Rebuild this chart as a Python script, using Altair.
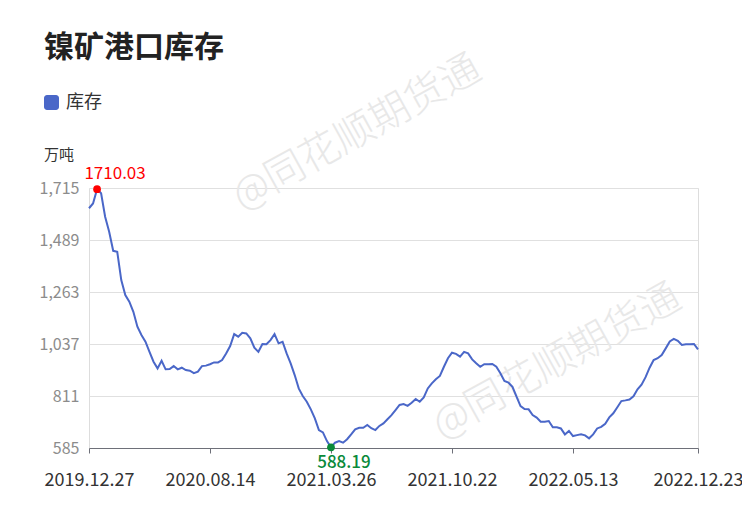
import altair as alt
import pandas as pd

# ---- data ----
stock = [
    1627, 1648, 1710.03, 1692, 1590, 1525, 1442, 1438, 1315, 1250,
    1221, 1177, 1112, 1076, 1047, 1003, 960, 931, 964, 927,
    928, 941, 927, 934, 924, 921, 910, 917, 941, 943,
    949, 957, 957, 967, 996, 1028, 1080, 1069, 1086, 1083,
    1062, 1021, 1003, 1037, 1036, 1054, 1080, 1040, 1047, 996,
    953, 902, 844, 811, 786, 753, 714, 663, 653, 615,
    588.19, 608, 615, 608, 623, 644, 666, 673, 673, 685,
    671, 663, 681, 692, 710, 728, 750, 772, 776, 768,
    782, 798, 786, 805, 844, 866, 884, 898, 938, 975,
    999, 994, 982, 1003, 996, 970, 953, 938, 949, 949,
    950, 938, 910, 876, 869, 851, 808, 767, 754, 753,
    728, 717, 699, 699, 702, 675, 675, 670, 644, 659,
    637, 641, 645, 640, 627, 644, 670, 677, 690, 718,
    736, 762, 789, 792, 796, 810, 840, 860, 893, 934,
    967, 975, 989, 1018, 1048, 1059, 1051, 1033, 1036, 1036,
    1037, 1014,
]
tick_index = [0, 30, 60, 90, 120, 151]
tick_labels = ["2019.12.27", "2020.08.14", "2021.03.26", "2021.10.22", "2022.05.13", "2022.12.23"]
y_ticks = [585, 811, 1037, 1263, 1489, 1715]

title_text = "镍矿港口库存"
series_name = "库存"
unit_text = "万吨"
watermark = "@同花顺期货通"

FONT = "Noto Sans CJK SC"
LINE_COLOR = "#4a67c8"

df = pd.DataFrame({"idx": list(range(len(stock))), "v": stock})
imax = int(df["v"].idxmax())
imin = int(df["v"].idxmin())
df_max = df.iloc[[imax]].assign(lbl=lambda d: d["v"].map(lambda x: f"{x:.2f}"))
df_min = df.iloc[[imin]].assign(lbl=lambda d: d["v"].map(lambda x: f"{x:.2f}"))

label_expr = ""
for i, t in zip(tick_index, tick_labels):
    label_expr += f"datum.value == {i} ? '{t}' : "
label_expr += "''"

x_enc = alt.X(
    "idx:Q",
    scale=alt.Scale(domain=[0, len(stock) - 1], nice=False, zero=False),
    axis=alt.Axis(
        values=tick_index, labelExpr=label_expr, title=None, grid=False,
        domainColor="#6e7079", tickColor="#6e7079", tickSize=5,
        labelColor="#333333", labelFontSize=18, labelFont=FONT,
        labelPadding=18, labelFlush=False, labelOverlap=False,
    ),
)
y_enc = alt.Y(
    "v:Q",
    scale=alt.Scale(domain=[585, 1715], nice=False, zero=False),
    axis=alt.Axis(
        values=y_ticks, labelExpr="format(datum.value, ',')", title=None,
        domain=False, ticks=False,
        gridColor="#e0e0e0", labelColor="#8c8c8c", labelFontSize=16,
        labelFont=FONT, labelPadding=10, labelOverlap=False,
    ),
)

wm_df = pd.DataFrame({"t": [watermark]})
wm1 = alt.Chart(wm_df).mark_text(
    font=FONT, fontSize=40, fontWeight=300, color="#e8e8e8", angle=331,
    align="center", baseline="middle",
).encode(text="t:N", x=alt.value(268), y=alt.value(-55))
wm2 = alt.Chart(wm_df).mark_text(
    font=FONT, fontSize=40, fontWeight=300, color="#e8e8e8", angle=331,
    align="center", baseline="middle",
).encode(text="t:N", x=alt.value(468), y=alt.value(174))

line = alt.Chart(df).mark_line(color=LINE_COLOR, strokeWidth=2).encode(x=x_enc, y=y_enc)

max_pt = alt.Chart(df_max).mark_point(filled=True, size=60, color="#ff0000", opacity=1).encode(
    x=x_enc, y=y_enc)
max_tx = alt.Chart(df_max).mark_text(
    font=FONT, fontSize=17, color="#ff0000", dx=18, dy=-15, align="center", baseline="middle"
).encode(x=x_enc, y=y_enc, text="lbl:N")
min_pt = alt.Chart(df_min).mark_point(filled=True, size=60, color="#0a8a3a", opacity=1).encode(
    x=x_enc, y=y_enc)
min_tx = alt.Chart(df_min).mark_text(
    font=FONT, fontSize=17, fontWeight=500, color="#0a8a3a", dx=13, dy=16,
    align="center", baseline="middle"
).encode(x=x_enc, y=y_enc, text="lbl:N")

title_df = pd.DataFrame({"t": [title_text]})
title = alt.Chart(title_df).mark_text(
    font=FONT, fontSize=30, fontWeight="bold", color="#222222", align="left", baseline="middle"
).encode(text="t:N", x=alt.value(-45), y=alt.value(-140))

leg_df = pd.DataFrame({"t": [series_name]})
leg_sq = alt.Chart(leg_df).mark_rect(color=LINE_COLOR, cornerRadius=3).encode(
    x=alt.value(-45), x2=alt.value(-30), y=alt.value(-93), y2=alt.value(-78))
leg_tx = alt.Chart(leg_df).mark_text(
    font=FONT, fontSize=18, color="#333333", align="left", baseline="middle"
).encode(text="t:N", x=alt.value(-23), y=alt.value(-85))

unit_df = pd.DataFrame({"t": [unit_text]})
unit = alt.Chart(unit_df).mark_text(
    font=FONT, fontSize=15, color="#333333", align="left", baseline="middle"
).encode(text="t:N", x=alt.value(-45), y=alt.value(-33))

chart = alt.layer(
    wm1, wm2, line, max_pt, min_pt, max_tx, min_tx, title, leg_sq, leg_tx, unit
).properties(
    width=609, height=260, autosize="none",
    padding={"left": 81, "top": 180, "right": 44, "bottom": 54},
).configure_view(stroke=None).configure(background="white")

chart.save("out.html", embed_options={"renderer": "svg", "actions": False})
